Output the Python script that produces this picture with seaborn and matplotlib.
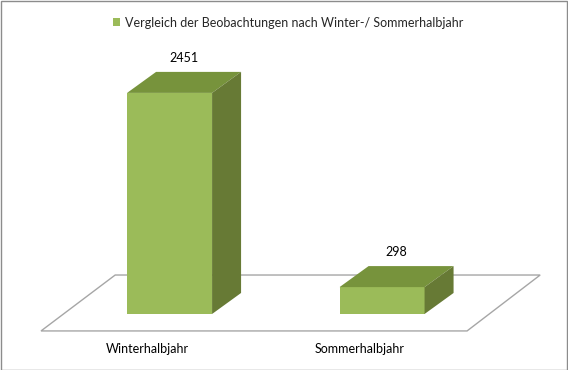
import matplotlib
matplotlib.use("Agg")
import matplotlib.pyplot as plt
from matplotlib.patches import Polygon, Patch, Rectangle
import seaborn as sns
import pandas as pd

categories = ["Winterhalbjahr", "Sommerhalbjahr"]
values = [2451, 298]
series_name = "Vergleich der Beobachtungen nach Winter-/ Sommerhalbjahr"

FRONT = "#9BBB59"
TOP = "#77933C"
SIDE = "#677A35"

sns.set_theme(style="white")
plt.rcParams["font.family"] = ["Lato", "DejaVu Sans"]

df = pd.DataFrame({"cat": categories, "val": values})

fig = plt.figure(figsize=(5.68, 3.70), dpi=100)
ax = fig.add_axes([0, 0, 1, 1])

# floor (3D base plane)
floor = Polygon([(-0.605, -188), (1.400, -188), (1.744, 432), (-0.256, 432)],
                closed=True, facecolor="none", edgecolor="#A6A6A6", lw=1.0, zorder=1)
ax.add_patch(floor)

sns.barplot(data=df, x="cat", y="val", ax=ax, color=FRONT, width=0.4,
            saturation=1, edgecolor="none", zorder=3)
ax.set_xlim(-0.798, 1.875)
ax.set_ylim(-621, 3481)
ax.axis("off")

FS = 9.0
dx, dy = 0.1365, 233
bars = [q for q in ax.patches if q is not floor]
for p, v in zip(bars, values):
    x0 = p.get_x()
    w = p.get_width()
    h = p.get_height()
    x1 = x0 + w
    top = Polygon([(x0, h), (x1, h), (x1 + dx, h + dy), (x0 + dx, h + dy)],
                  closed=True, facecolor=TOP, edgecolor="none", zorder=3)
    side = Polygon([(x1, 0), (x1 + dx, dy), (x1 + dx, h + dy), (x1, h)],
                   closed=True, facecolor=SIDE, edgecolor="none", zorder=3)
    ax.add_patch(top)
    ax.add_patch(side)
    ax.annotate(f"{v}", xy=(x0 + (w + dx) / 2, h + dy), xytext=(0, 6),
                textcoords="offset points", ha="center", va="bottom",
                fontsize=FS, color="#000000")

for i, c in enumerate(categories):
    ax.text(i - 0.1035, -388, c, ha="center", va="center", fontsize=FS, color="#000000")

leg = ax.legend(handles=[Patch(facecolor=FRONT, edgecolor="none", label=series_name)],
                loc="upper center", bbox_to_anchor=(0.507, 0.985), frameon=False,
                handlelength=0.6, handleheight=0.6, handletextpad=0.4, fontsize=FS)

fig.patches.append(Rectangle((0.001, 0.001), 0.997, 0.996, transform=fig.transFigure,
                             fill=False, edgecolor="#8C8C8C", lw=1.0))

fig.savefig("out.png", dpi=100)
